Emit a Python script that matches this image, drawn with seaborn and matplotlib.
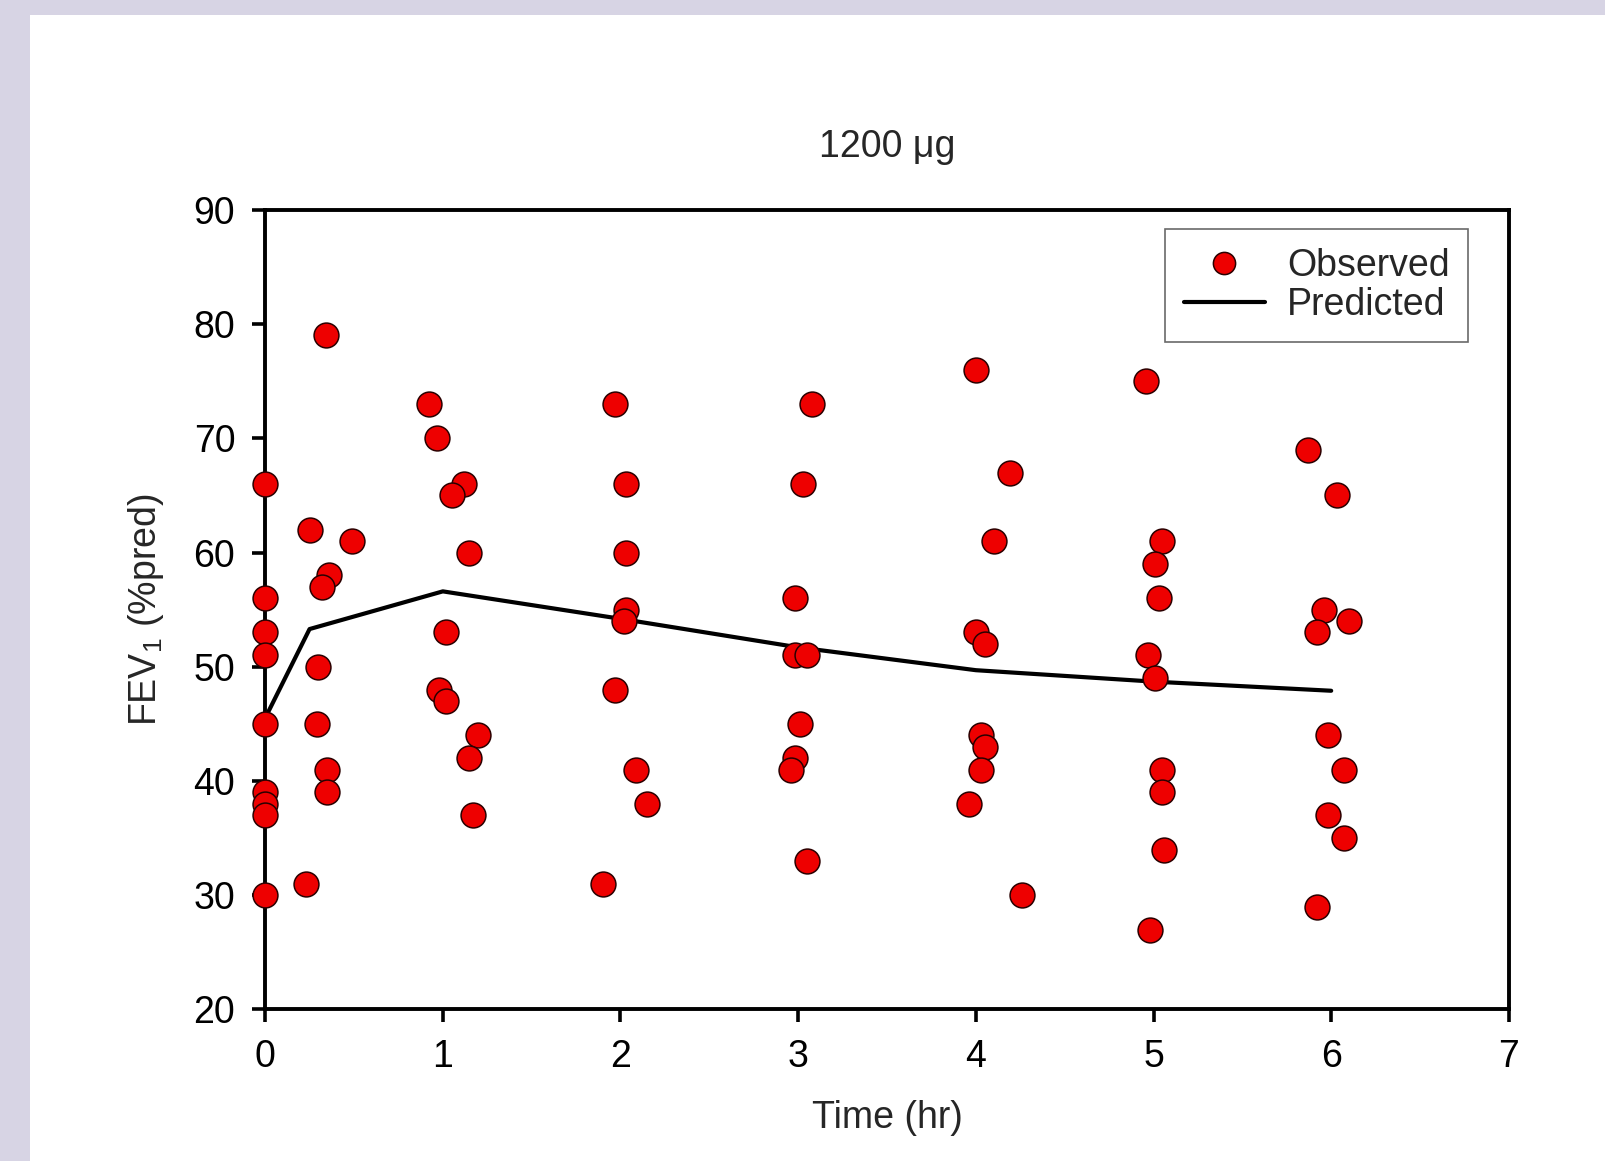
import matplotlib
matplotlib.use("Agg")
import matplotlib.pyplot as plt
from matplotlib.patches import Rectangle
from matplotlib.lines import Line2D
import seaborn as sns
import pandas as pd

# Observed data (time in hr, FEV1 %pred)
obs_time = [0, 0, 0, 0, 0, 0, 0, 0, 0,
            0.34, 0.25, 0.49, 0.36, 0.32, 0.30, 0.29, 0.35, 0.35, 0.23,
            0.92, 0.97, 1.12, 1.05, 1.15, 1.02, 0.98, 1.02, 1.20, 1.15, 1.17,
            1.97, 2.03, 2.03, 2.03, 2.02, 1.97, 2.09, 2.15, 1.90,
            3.08, 3.03, 2.98, 2.98, 3.05, 3.01, 2.98, 2.96, 3.05,
            4.00, 4.19, 4.10, 4.00, 4.05, 4.03, 4.05, 4.03, 3.96, 4.26,
            4.96, 5.05, 5.01, 5.03, 4.97, 5.01, 5.05, 5.05, 5.06, 4.98,
            5.87, 6.03, 5.96, 5.92, 6.10, 5.98, 6.07, 5.98, 6.07, 5.92]
obs_fev1 = [66, 56, 53, 51, 45, 39, 38, 37, 30,
            79, 62, 61, 58, 57, 50, 45, 41, 39, 31,
            73, 70, 66, 65, 60, 53, 48, 47, 44, 42, 37,
            73, 66, 60, 55, 54, 48, 41, 38, 31,
            73, 66, 56, 51, 51, 45, 42, 41, 33,
            76, 67, 61, 53, 52, 44, 43, 41, 38, 30,
            75, 61, 59, 56, 51, 49, 41, 39, 34, 27,
            69, 65, 55, 53, 54, 44, 41, 37, 35, 29]

# Predicted curve
pred_time = [0, 0.25, 1, 2, 3, 4, 5, 6]
pred_fev1 = [45.5, 53.3, 56.6, 54.2, 51.7, 49.7, 48.7, 47.9]

x_ticks = [0, 1, 2, 3, 4, 5, 6, 7]
y_ticks = [20, 30, 40, 50, 60, 70, 80, 90]

sns.set_style("ticks")
plt.rcParams['font.family'] = ['Liberation Sans', 'DejaVu Sans']
plt.rcParams['mathtext.default'] = 'regular'

FS = 27

fig = plt.figure(figsize=(16.05, 11.61), dpi=100)
fig.patch.set_facecolor("white")
border = "#d7d4e4"
fig.patches.append(Rectangle((0, 0), 30 / 1605, 1, transform=fig.transFigure,
                             facecolor=border, edgecolor="none", zorder=0))
fig.patches.append(Rectangle((0, 1 - 15 / 1161), 1, 15 / 1161, transform=fig.transFigure,
                             facecolor=border, edgecolor="none", zorder=0))

ax = fig.add_axes([0.1652, 0.1305, 0.7749, 0.6888])

obs_df = pd.DataFrame({"time": obs_time, "fev1": obs_fev1})
pred_df = pd.DataFrame({"time": pred_time, "fev1": pred_fev1})

sns.lineplot(data=pred_df, x="time", y="fev1", ax=ax, color="black", linewidth=3.0,
             sort=False, zorder=2, legend=False)
sns.scatterplot(data=obs_df, x="time", y="fev1", ax=ax, color="#ee0000",
                edgecolor="#2a0000", linewidth=1.1, s=320, zorder=3, legend=False,
                clip_on=False)

ax.set_xlim(0, 7)
ax.set_ylim(20, 90)
ax.set_xticks(x_ticks)
ax.set_yticks(y_ticks)
ax.set_xticklabels([str(t) for t in x_ticks])
ax.set_yticklabels([str(t) for t in y_ticks])

for sp in ax.spines.values():
    sp.set_visible(True)
    sp.set_linewidth(2.8)
    sp.set_color("black")
ax.tick_params(axis="both", direction="out", length=9.5, width=2.6, labelsize=FS,
               colors="black")
ax.tick_params(axis="x", pad=12)
ax.tick_params(axis="y", pad=12)
ax.tick_params(top=False, right=False)

ax.set_xlabel("Time (hr)", fontsize=FS, labelpad=18)
ax.set_ylabel("FEV$_1$ (%pred)", fontsize=FS, labelpad=20)
ax.set_title("1200 μg", fontsize=FS, pad=38)

handles = [
    Line2D([], [], linestyle="none", marker="o", markersize=16,
           markerfacecolor="#ee0000", markeredgecolor="#2a0000", markeredgewidth=1.1),
    Line2D([], [], color="black", linewidth=3.0),
]
leg = ax.legend(handles, ["Observed", "Predicted"], loc="upper right",
                bbox_to_anchor=(0.9675, 0.976), fontsize=FS, frameon=True,
                fancybox=False, edgecolor="#444444", handlelength=2.15,
                handletextpad=0.6, borderpad=0.5, labelspacing=0.1,
                borderaxespad=0)
leg.get_frame().set_linewidth(1.2)

fig.savefig("out.png", dpi=100, facecolor="white")
